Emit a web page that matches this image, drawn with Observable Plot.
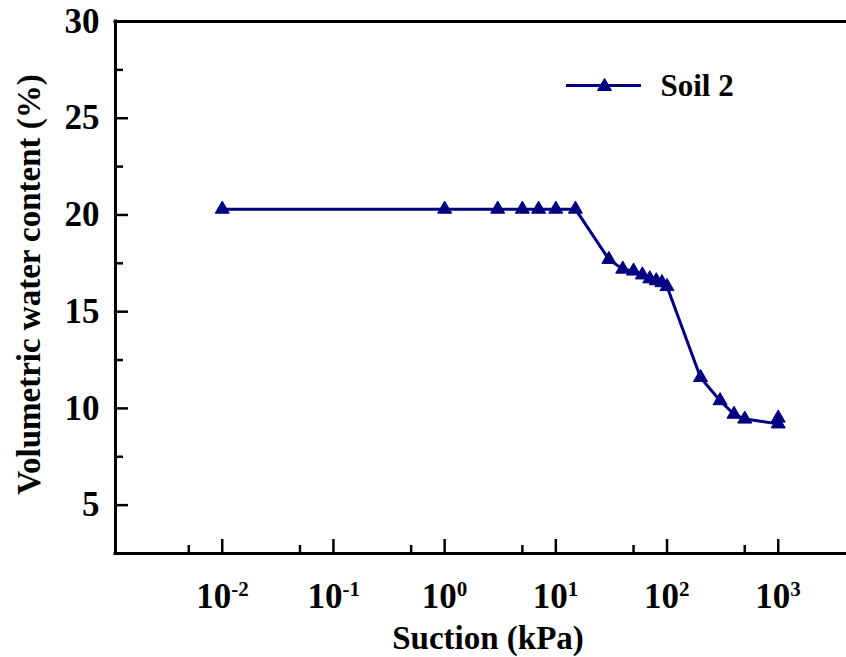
<!DOCTYPE html>
<html><head><meta charset="utf-8">
<script src="https://cdn.jsdelivr.net/npm/d3@7"></script>
<script src="https://cdn.jsdelivr.net/npm/@observablehq/plot@0.6"></script>
<style>body{margin:0;background:#fff}</style>
</head><body><div id="chart"></div>
<script>
const suction = [0.01, 1, 3, 5, 7, 10, 15, 30, 40, 50, 60, 70, 80, 90, 100, 200, 300, 400, 500, 1000, 1000];
const water   = [20.3, 20.3, 20.3, 20.3, 20.3, 20.3, 20.3, 17.7, 17.2, 17.1, 16.9, 16.7, 16.6, 16.5, 16.3, 11.6, 10.4, 9.7, 9.45, 9.2, 9.5];
const seriesName = "Soil 2";
const xMajorExp = [-2, -1, 0, 1, 2, 3];
const xMinorTicks = [0.005, 0.05, 0.5, 5, 50, 500];
const yMajorTicks = [5, 10, 15, 20, 25, 30];
const yMinorTicks = [7.5, 12.5, 17.5, 22.5, 27.5];
const xDomain = [10 ** -2.96, 10 ** 3.614];
const yDomain = [2.5, 30];
const xTitle = "Suction (kPa)";
const yTitle = "Volumetric water content (%)";

const data = suction.map((s, i) => ({suction: s, water: water[i]}));
const font = "'Liberation Serif', 'Times New Roman', serif";
const navy = "#000080";
const W = 846, H = 657, mL = 115, mR = 0, mT = 21, mB = 104;
const innerW = W - mL - mR, innerH = H - mT - mB;
const neg = xMajorExp.filter(e => e < 0), pos = xMajorExp.filter(e => e >= 0);
const txt = {fontWeight: "bold", fill: "black", lineAnchor: "middle"};

const chart = Plot.plot({
  width: W, height: H,
  marginLeft: mL, marginRight: mR, marginTop: mT, marginBottom: mB,
  style: {fontFamily: font, background: "white", overflow: "visible", color: "black"},
  x: {type: "log", domain: xDomain, axis: null},
  y: {domain: yDomain, axis: null},
  marks: [
    // frame lines (top, left, bottom)
    Plot.ruleY([yDomain[1]], {stroke: "black", strokeWidth: 3, strokeLinecap: "square"}),
    Plot.ruleY([yDomain[0]], {stroke: "black", strokeWidth: 3, strokeLinecap: "square"}),
    Plot.ruleX([xDomain[0]], {stroke: "black", strokeWidth: 3, strokeLinecap: "square"}),
    // inward ticks
    Plot.ruleX(xMajorExp.map(e => 10 ** e), {insetTop: innerH - 14, stroke: "black", strokeWidth: 2.5}),
    Plot.ruleX(xMinorTicks, {insetTop: innerH - 8, stroke: "black", strokeWidth: 2.5}),
    Plot.ruleY(yMajorTicks, {insetRight: innerW - 13, stroke: "black", strokeWidth: 2.5}),
    Plot.ruleY(yMinorTicks, {insetRight: innerW - 8, stroke: "black", strokeWidth: 2.5}),
    // y tick labels
    Plot.text(yMajorTicks, {...txt, y: d => d, frameAnchor: "left", text: d => String(d), textAnchor: "end", dx: -16, fontSize: 35}),
    // x tick labels 10^n
    Plot.text(neg, {...txt, x: e => 10 ** e, frameAnchor: "bottom", text: () => "10", textAnchor: "end", dx: 9, dy: 43, fontSize: 35}),
    Plot.text(neg, {...txt, x: e => 10 ** e, frameAnchor: "bottom", text: e => String(e), textAnchor: "start", dx: 9, dy: 36, fontSize: 21}),
    Plot.text(pos, {...txt, x: e => 10 ** e, frameAnchor: "bottom", text: () => "10", textAnchor: "end", dx: 12, dy: 43, fontSize: 35}),
    Plot.text(pos, {...txt, x: e => 10 ** e, frameAnchor: "bottom", text: e => String(e), textAnchor: "start", dx: 12, dy: 36, fontSize: 21}),
    // axis titles
    Plot.text([xTitle], {...txt, frameAnchor: "bottom", textAnchor: "middle", dx: 7, dy: 85, fontSize: 33}),
    Plot.text([yTitle], {...txt, frameAnchor: "left", textAnchor: "middle", rotate: -90, dx: -86, dy: -3, fontSize: 33}),
    // data
    Plot.line(data, {x: "suction", y: "water", stroke: navy, strokeWidth: 3}),
    Plot.dot(data, {x: "suction", y: "water", symbol: "triangle", r: 5.2, fill: navy, stroke: navy, strokeWidth: 1}),
    // legend
    Plot.ruleY([yDomain[1]], {insetLeft: 451, insetRight: 205, dy: 64, stroke: navy, strokeWidth: 3}),
    Plot.dot([seriesName], {frameAnchor: "top-left", dx: 489, dy: 65, symbol: "triangle", r: 5.2, fill: navy, stroke: navy, strokeWidth: 1}),
    Plot.text([seriesName], {...txt, frameAnchor: "top-left", dx: 545, dy: 65, textAnchor: "start", fontSize: 31})
  ]
});
document.getElementById("chart").append(chart);
</script>
</body></html>
